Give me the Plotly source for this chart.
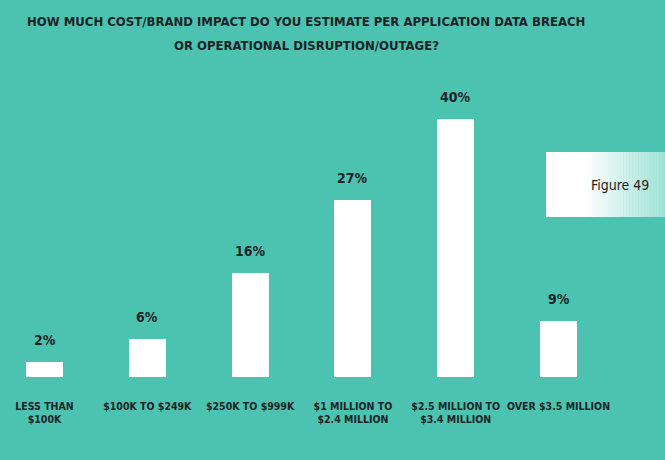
import plotly.graph_objects as go

categories = ["LESS THAN<br>$100K", "$100K TO $249K", "$250K TO $999K",
              "$1 MILLION TO<br>$2.4 MILLION", "$2.5 MILLION TO<br>$3.4 MILLION", "OVER $3.5 MILLION"]
values = [2.4, 5.9, 16.1, 27.4, 40.0, 8.7]
labels = ["2%", "6%", "16%", "27%", "40%", "9%"]
title_lines = ["HOW MUCH COST/BRAND IMPACT DO YOU ESTIMATE PER APPLICATION DATA BREACH",
               "OR OPERATIONAL DISRUPTION/OUTAGE?"]
figure_label = "Figure 49"

BG = "#4cc3b0"
DARK = "#1c2326"
FONT = "DejaVu Sans Condensed, Liberation Sans Narrow, sans-serif"

W, H = 665, 460
MB = 83
plot_h = H - MB

fig = go.Figure()
fig.add_trace(go.Bar(
    x=list(range(len(categories))), y=values,
    marker=dict(color="white", line=dict(width=0)),
    width=0.36, hoverinfo="skip",
))

annotations = []
for i, (v, t) in enumerate(zip(values, labels)):
    annotations.append(dict(x=i, y=v, text=t, showarrow=False, yanchor="bottom",
                            yshift=12, font=dict(family=FONT, size=14, color=DARK, weight="bold")))

for line, ypx in zip(title_lines, [22, 46]):
    annotations.append(dict(xref="paper", yref="paper", x=306 / W, y=(plot_h - ypx) / plot_h,
                            text=line, showarrow=False, xanchor="center", yanchor="middle",
                            font=dict(family=FONT, size=13, color=DARK, weight="bold")))

# Figure label box with horizontal gradient (white -> light teal)
x0, x1 = 546, 665
y0, y1 = 152, 217
shapes = []
steps = 40
solid_until = 585
for k in range(steps):
    a = x0 + (x1 - x0) * k / steps
    b = x0 + (x1 - x0) * (k + 1) / steps + 0.5
    mid = (a + b) / 2
    t = 0.0 if mid <= solid_until else (mid - solid_until) / (x1 - solid_until)
    r = round(255 + (160 - 255) * t)
    g = round(255 + (226 - 255) * t)
    bb = round(255 + (214 - 255) * t)
    shapes.append(dict(type="rect", xref="paper", yref="paper",
                       x0=a / W, x1=min(b, W) / W, y0=(plot_h - y1) / plot_h, y1=(plot_h - y0) / plot_h,
                       fillcolor=f"rgb({r},{g},{bb})", line=dict(width=0), layer="below"))
annotations.append(dict(xref="paper", yref="paper", x=620 / W, y=(plot_h - 185) / plot_h,
                        text=figure_label, showarrow=False, xanchor="center", yanchor="middle",
                        font=dict(family=FONT, size=14, color=DARK)))

px_per_unit = (377 - 119) / 40.0
fig.update_layout(
    width=W, height=H,
    margin=dict(l=0, r=0, t=0, b=MB, autoexpand=False),
    paper_bgcolor=BG, plot_bgcolor=BG,
    showlegend=False,
    bargap=0,
    xaxis=dict(range=[-0.433, 6.036], tickmode="array", tickvals=list(range(len(categories))),
               ticktext=categories, showgrid=False, zeroline=False, showline=False,
               ticks="", tickangle=0, automargin=False, ticklabelstandoff=21,
               tickfont=dict(family=FONT, size=10.5, color=DARK, weight="bold"), fixedrange=True),
    yaxis=dict(range=[0, plot_h / px_per_unit], visible=False, fixedrange=True),
    annotations=annotations,
    shapes=shapes,
)

fig.write_html("out.html", config={"displayModeBar": False},
               post_script="document.body.style.margin='0';document.body.style.overflow='hidden';")
